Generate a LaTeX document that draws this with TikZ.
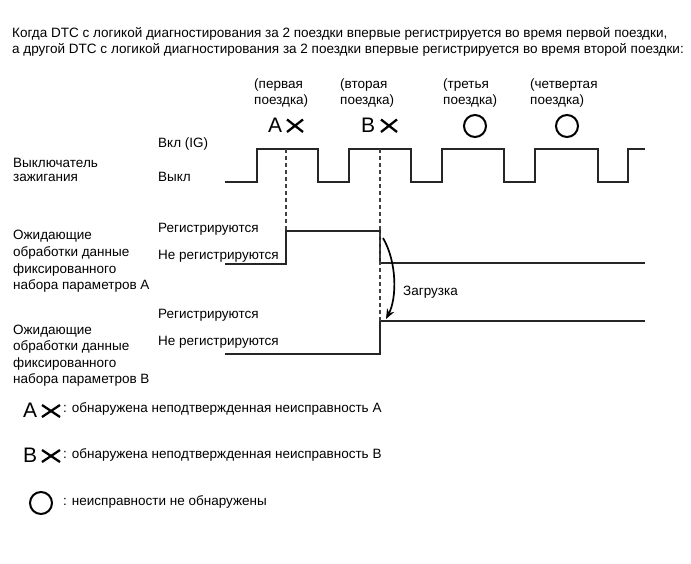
\documentclass[tikz,border=0pt]{standalone}
\usepackage{fontspec}
\setmainfont{Liberation Sans}
\usetikzlibrary{arrows.meta}
\tikzset{
  txt/.style={anchor=base west, inner sep=0pt, font=\fontsize{13.5}{16}\selectfont},
  ttl/.style={anchor=base west, inner sep=0pt, font=\fontsize{13.52}{16}\selectfont},
  lgd/.style={anchor=base west, inner sep=0pt, font=\fontsize{13.5}{16}\selectfont},
  bigl/.style={anchor=base west, inner sep=0pt, font=\fontsize{21}{21}\selectfont},
  wave/.style={line width=1.3pt, draw=black!85},
  guide/.style={dash pattern=on 4pt off 3pt, line width=1.1pt, draw=black!75},
  crossm/.style={line width=2.3pt},
  okmark/.style={circle, draw, line width=2pt, minimum size=22pt, inner sep=0pt},
}
\begin{document}
\begin{tikzpicture}[x=1pt,y=-1pt]
\useasboundingbox (0,0) rectangle (691,564);
% title
\node[ttl] (t1) at (12,38) {Когда DTC с логикой диагностирования за 2 поездки впервые регистрируется во время первой поездки,};
\node[ttl] (t2) at (12,54) {а другой DTC с логикой диагностирования за 2 поездки впервые регистрируется во время второй поездки:};
% trip labels
\node[txt] (p1a) at (254,89) {(первая};
\node[txt] (p1b) at (254,105) {поездка)};
\node[txt] (p2a) at (340,89) {(вторая};
\node[txt] (p2b) at (340,105) {поездка)};
\node[txt] (p3a) at (443,89) {(третья};
\node[txt] (p3b) at (443,105) {поездка)};
\node[txt] (p4a) at (530,89) {(четвертая};
\node[txt] (p4b) at (530,105) {поездка)};
% marks
\node[bigl] (mA) at (268,132.5) {A};
\draw[crossm] (287,119.5) -- (303,132) (287,132) -- (303,119.5);
\node[bigl] (mB) at (361,132.5) {B};
\draw[crossm] (381,119.5) -- (397,132) (381,132) -- (397,119.5);
\node[okmark] (o3) at (475,126) {};
\node[okmark] (o4) at (567,126) {};
% left labels
\node[txt] (ig1) at (13,168) {Выключатель};
\node[txt] (ig2) at (13,182) {зажигания};
\node[txt] (on) at (158,148) {Вкл (IG)};
\node[txt] (off) at (158,182) {Выкл};
\node[txt] (a1) at (13,240) {Ожидающие};
\node[txt] (a2) at (13,256.5) {обработки данные};
\node[txt] (a3) at (13,273) {фиксированного};
\node[txt] (a4) at (13,289.5) {набора параметров A};
\node[txt] (ar) at (158,233) {Регистрируются};
\node[txt] (an) at (158,259) {Не регистрируются};
\node[txt] (b1) at (13,334) {Ожидающие};
\node[txt] (b2) at (13,350.5) {обработки данные};
\node[txt] (b3) at (13,367) {фиксированного};
\node[txt] (b4) at (13,383.5) {набора параметров B};
\node[txt] (br) at (158,318) {Регистрируются};
\node[txt] (bn) at (158,345) {Не регистрируются};
% waveforms
\draw[wave] (225,182) -| (257,149) -| (318,182) -| (349,149) -| (411,182) -| (442,149) -| (504,182) -| (535,149) -| (598,182) -| (628,149) -- (645,149);
\draw[wave] (225,264) -| (286,231) -| (380,263) -- (645,263);
\draw[wave] (225,354) -| (380,321) -- (645,321);
\draw[guide] (286,149) -- (286,231);
\draw[guide] (380,149) -- (380,321);
% transfer arrow
\coordinate (ls) at (383,238);
\coordinate (le) at (386,319);
\draw[line width=1.7pt, -{Stealth[length=10pt,width=8pt]}] (ls) .. controls (397,262) and (397,298) .. (le);
\node[txt] (load) at (403,295) {Загрузка};
% legend
\node[bigl] (lA) at (23,417.5) {A};
\draw[crossm] (42,405) -- (60,417) (42,417) -- (60,405);
\node[lgd] (lAt) at (63,412) {: обнаружена неподтвержденная неисправность A};
\node[bigl] (lB) at (23,462.5) {B};
\draw[crossm] (42,450) -- (60,462) (42,462) -- (60,450);
\node[lgd] (lBt) at (63,458) {: обнаружена неподтвержденная неисправность B};
\node[okmark] (lO) at (41,503) {};
\node[lgd] (lOt) at (63,505) {: неисправности не обнаружены};
\end{tikzpicture}
\end{document}
